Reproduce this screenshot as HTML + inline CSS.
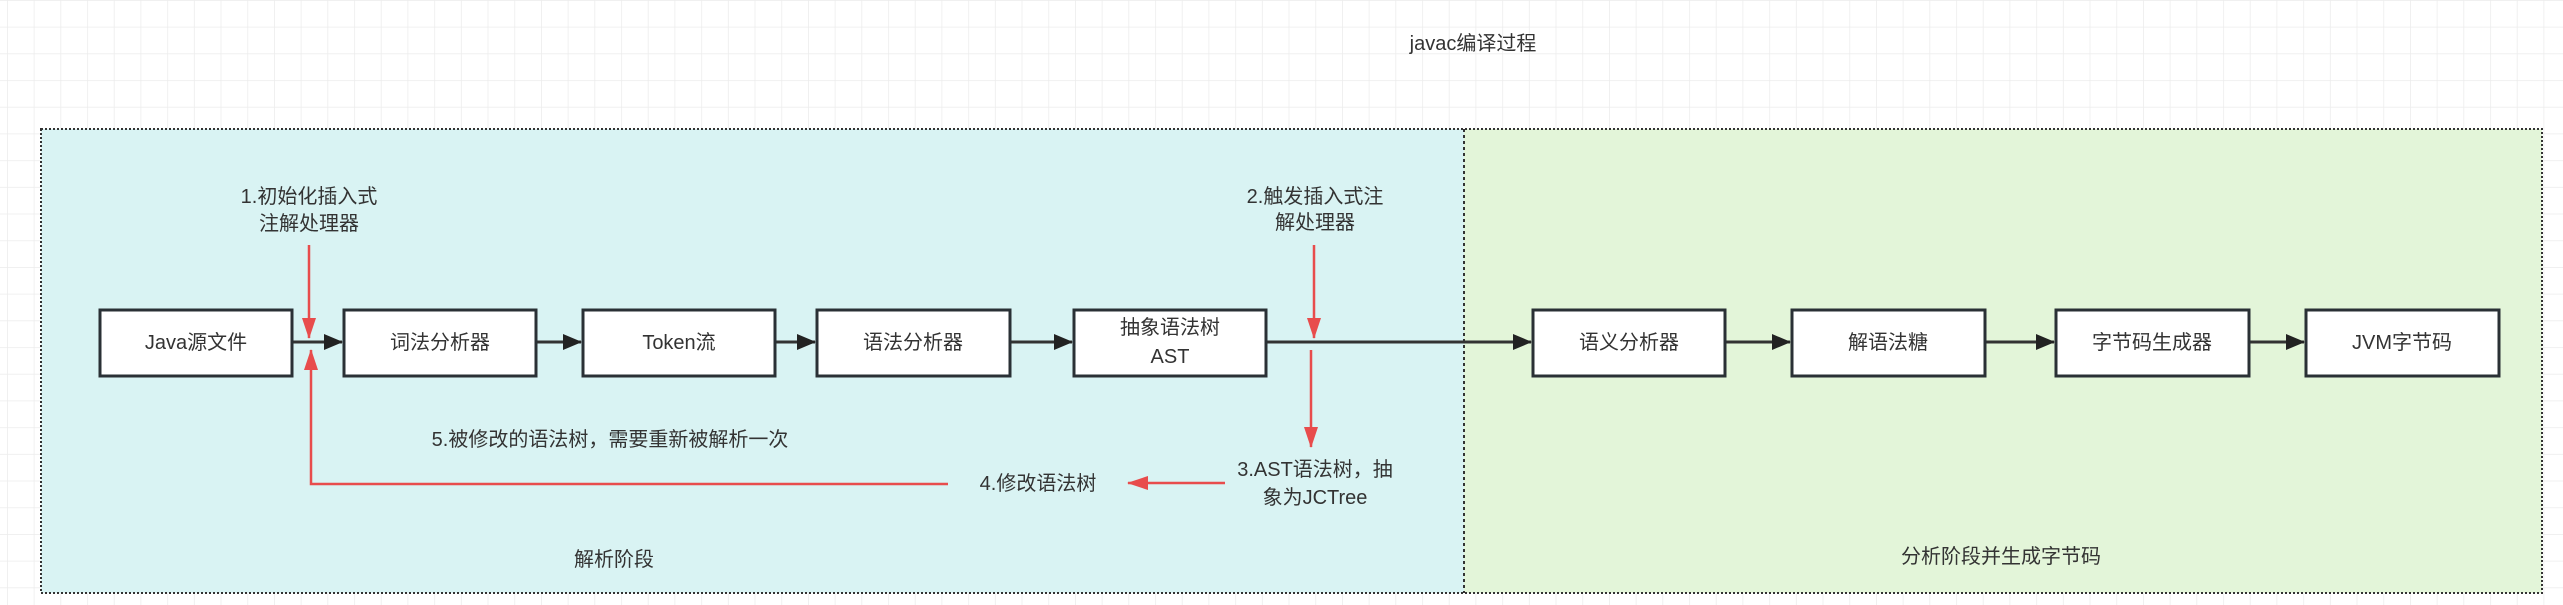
<!DOCTYPE html>
<html><head><meta charset="utf-8"><style>
html,body{margin:0;padding:0;background:#fff;}
svg{display:block;}
text{font-family:"Liberation Sans","Noto Sans CJK SC",sans-serif;font-size:20px;fill:#333;text-anchor:middle;dominant-baseline:central;}
</style></head><body>
<svg width="2563" height="605" viewBox="0 0 2563 605" xmlns="http://www.w3.org/2000/svg">
<defs>
<pattern id="g" width="26.7" height="26.7" patternUnits="userSpaceOnUse" x="7" y="0">
<path d="M0 0H26.7M0 0V26.7" stroke="#ececec" stroke-width="1.5" fill="none"/>
</pattern>
<marker id="ab" markerWidth="20" markerHeight="16" refX="18" refY="8" orient="auto" markerUnits="userSpaceOnUse"><path d="M0 0L19 8L0 16z" fill="#222"/></marker>
<marker id="ar" markerWidth="22" markerHeight="16" refX="20" refY="8" orient="auto" markerUnits="userSpaceOnUse"><path d="M0 1L21 8L0 15z" fill="#e84c4c"/></marker>
</defs>
<rect width="2563" height="605" fill="url(#g)"/>
<text x="1473" y="44">javac编译过程</text>
<rect x="41" y="129" width="1423" height="464" fill="#d9f3f3"/>
<rect x="1464" y="129" width="1078" height="464" fill="#e3f5d9"/>
<rect x="41" y="129" width="2501" height="464" fill="none" stroke="#333" stroke-width="2" stroke-dasharray="2 2"/>
<line x1="1464" y1="129" x2="1464" y2="593" stroke="#333" stroke-width="2" stroke-dasharray="3 3"/>
<g stroke="#333" stroke-width="3" fill="none">
<line x1="292" y1="342" x2="342" y2="342" marker-end="url(#ab)"/>
<line x1="536" y1="342" x2="581" y2="342" marker-end="url(#ab)"/>
<line x1="775" y1="342" x2="815" y2="342" marker-end="url(#ab)"/>
<line x1="1010" y1="342" x2="1072" y2="342" marker-end="url(#ab)"/>
<line x1="1266" y1="342" x2="1531" y2="342" marker-end="url(#ab)"/>
<line x1="1725" y1="342" x2="1790" y2="342" marker-end="url(#ab)"/>
<line x1="1985" y1="342" x2="2054" y2="342" marker-end="url(#ab)"/>
<line x1="2249" y1="342" x2="2304" y2="342" marker-end="url(#ab)"/>
</g>
<g fill="#fff" stroke="#2a3035" stroke-width="3">
<rect x="100" y="310" width="192" height="66"/>
<rect x="344" y="310" width="192" height="66"/>
<rect x="583" y="310" width="192" height="66"/>
<rect x="817" y="310" width="193" height="66"/>
<rect x="1074" y="310" width="192" height="66"/>
<rect x="1533" y="310" width="192" height="66"/>
<rect x="1792" y="310" width="193" height="66"/>
<rect x="2056" y="310" width="193" height="66"/>
<rect x="2306" y="310" width="193" height="66"/>
</g>
<text x="196" y="343">Java源文件</text>
<text x="440" y="343">词法分析器</text>
<text x="679" y="343">Token流</text>
<text x="913" y="343">语法分析器</text>
<text x="1170" y="328">抽象语法树</text>
<text x="1170" y="357">AST</text>
<text x="1629" y="343">语义分析器</text>
<text x="1888" y="343">解语法糖</text>
<text x="2152" y="343">字节码生成器</text>
<text x="2402" y="343">JVM字节码</text>
<g stroke="#e84c4c" stroke-width="2.5" fill="none">
<line x1="309" y1="245" x2="309" y2="338" marker-end="url(#ar)"/>
<polyline points="948,484 311,484 311,350" marker-end="url(#ar)"/>
<line x1="1314" y1="245" x2="1314" y2="338" marker-end="url(#ar)"/>
<line x1="1311" y1="350" x2="1311" y2="447" marker-end="url(#ar)"/>
<line x1="1225" y1="483" x2="1128" y2="483" marker-end="url(#ar)"/>
</g>
<text x="309" y="197">1.初始化插入式</text>
<text x="309" y="224">注解处理器</text>
<text x="1315" y="197">2.触发插入式注</text>
<text x="1315" y="223">解处理器</text>
<text x="1315" y="470">3.AST语法树，抽</text>
<text x="1315" y="498">象为JCTree</text>
<text x="1038" y="484">4.修改语法树</text>
<text x="610" y="440">5.被修改的语法树，需要重新被解析一次</text>
<text x="614" y="560">解析阶段</text>
<text x="2001" y="557">分析阶段并生成字节码</text>
</svg>
</body></html>
